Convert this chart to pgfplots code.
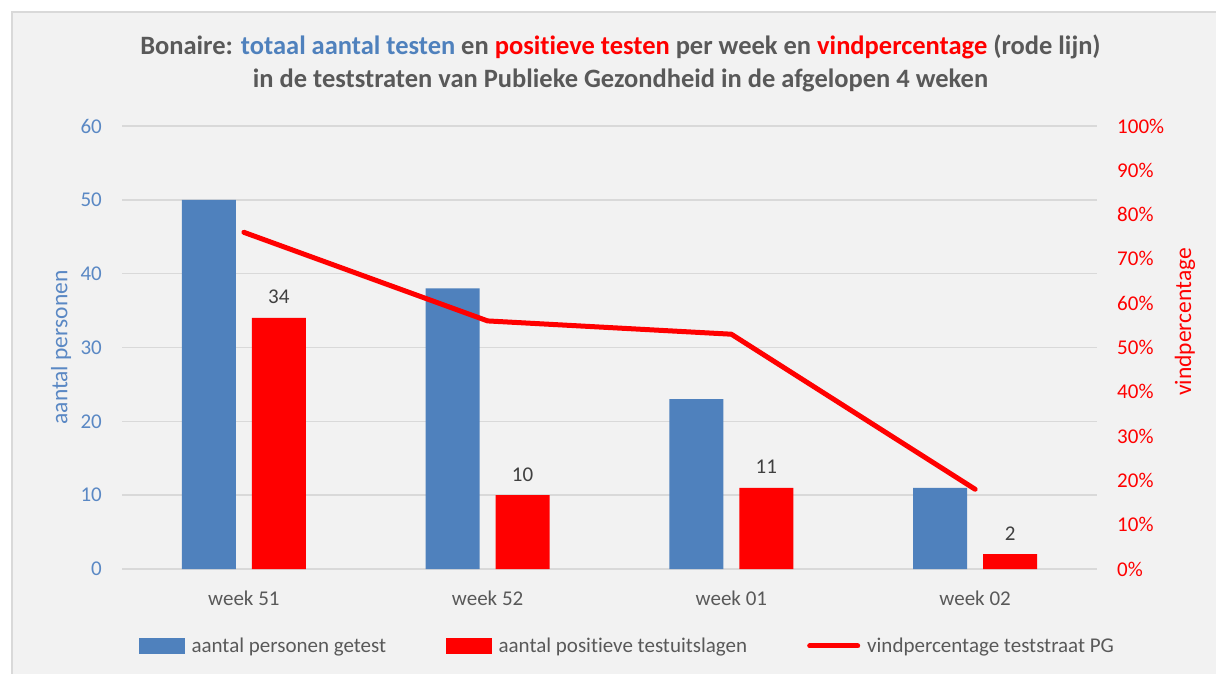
\documentclass[border=0pt]{standalone}
\usepackage{pgfplots}
\pgfplotsset{compat=1.18}
\usepackage{fontspec}
\setmainfont{Carlito}[Ligatures={NoCommon}]
\definecolor{bgc}{HTML}{F2F2F2}
\definecolor{frm}{HTML}{D9D9D9}
\definecolor{barblue}{HTML}{4F81BD}
\definecolor{tickblue}{HTML}{5A88C4}
\definecolor{txtgray}{HTML}{595959}
\definecolor{lblgray}{HTML}{404040}
\begin{document}
\begin{tikzpicture}[x=1pt,y=1pt]
\clip (0,0) rectangle (1216,673);
\fill[white] (0,0) rectangle (1216,673);
\filldraw[fill=bgc,draw=frm,line width=2pt] (12,-10) rectangle (1230,661);
\node[font=\fontsize{26.5}{33}\selectfont\bfseries, text=txtgray, align=center] at (620.5,609.5)
  {Bonaire: \textcolor{barblue}{totaal aantal testen} en \textcolor{red}{positieve testen} per week en \textcolor{red}{vindpercentage} (rode lijn)\\ in de teststraten van Publieke Gezondheid in de afgelopen 4 weken};
\node[rotate=90, font=\fontsize{23.5}{26}\selectfont, text=tickblue] at (61,325.5) {aantal personen};
\node[rotate=90, font=\fontsize{23.5}{26}\selectfont, text=red] at (1185,351) {vindpercentage};
\begin{axis}[
  at={(122pt,104pt)}, anchor=south west, scale only axis,
  width=975pt, height=443pt,
  xmin=-0.5, xmax=3.5, ymin=0, ymax=60,
  axis line style={draw=none},
  tick style={draw=none},
  ytick={0,10,...,60},
  xtick={0,1,2,3},
  xticklabels={week 51, week 52, week 01, week 02},
  ymajorgrids,
  grid style={frm, line width=1.5pt},
  /pgf/number format/assume math mode=true,
  yticklabel style={text=tickblue, font=\fontsize{21}{24}\selectfont, anchor=east, inner sep=0pt, xshift=-20pt},
  xticklabel style={text=txtgray, font=\fontsize{21}{24}\selectfont, anchor=base, inner sep=0pt, yshift=-36pt},
]
\addplot[ybar, bar width=54pt, bar shift=-35pt, fill=barblue, draw=none]
  coordinates {(0,50) (1,38) (2,23) (3,11)};
\addplot[ybar, bar width=54pt, bar shift=35pt, fill=red, draw=none,
  nodes near coords,
  nodes near coords style={text=lblgray, font=\fontsize{21}{24}\selectfont, anchor=base, inner sep=0pt, yshift=14pt, xshift=35pt}]
  coordinates {(0,34) (1,10) (2,11) (3,2)};
\end{axis}
\begin{axis}[
  at={(122pt,104pt)}, anchor=south west, scale only axis,
  width=975pt, height=443pt,
  xmin=-0.5, xmax=3.5, ymin=0, ymax=100,
  hide x axis,
  axis y line*=right,
  axis line style={draw=none},
  tick style={draw=none},
  ytick={0,10,...,100},
  yticklabel={\pgfmathprintnumber{\tick}\%},
  /pgf/number format/assume math mode=true,
  yticklabel style={text=red, font=\fontsize{21}{24}\selectfont, anchor=west, inner sep=0pt, xshift=20pt},
  legend columns=3,
  legend style={draw=none, fill=none, at={(0.5185,-0.1738)}, anchor=center,
    font=\fontsize{21}{24}\selectfont, text=txtgray,
    /tikz/every odd column/.append style={column sep=5pt},
    /tikz/every even column/.append style={column sep=58pt}},
  legend cell align=left,
]
\addlegendimage{legend image code/.code={\fill[barblue] (0pt,-7.5pt) rectangle (45pt,7.5pt);}}
\addlegendentry{aantal personen getest}
\addlegendimage{legend image code/.code={\fill[red] (0pt,-7.5pt) rectangle (45pt,7.5pt);}}
\addlegendentry{aantal positieve testuitslagen}
\addplot[red, line width=5pt, line cap=round, line join=round,
  legend image code/.code={\draw[red, line width=5pt, line cap=round] (0pt,0pt) -- (48pt,0pt);}]
  coordinates {(0,76) (1,56) (2,53) (3,18)};
\addlegendentry{vindpercentage teststraat PG}
\end{axis}
\end{tikzpicture}
\end{document}
